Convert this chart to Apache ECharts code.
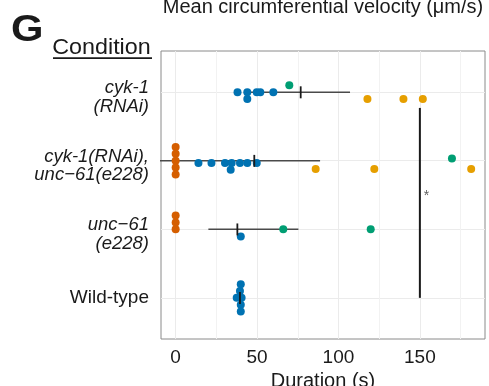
<!DOCTYPE html>
<html><head><meta charset="utf-8">
<script src="https://cdn.jsdelivr.net/npm/echarts@6/dist/echarts.min.js"></script>
<style>html,body{margin:0;padding:0;background:#fff}#c{width:489px;height:386px}</style>
</head><body><div id="c"></div>
<script>
// Conditions (index = position on the y axis, 0 = bottom)
const conditions = ['Wild-type', 'unc\u221261\n(e228)', 'cyk-1(RNAi),\nunc\u221261(e228)', 'cyk-1\n(RNAi)'];
const conditionItalic = [false, true, true, true];
const xTicks = [0, 50, 100, 150];
const xMinorGrid = [25, 75, 125, 175];
const yTicks = [0, 1, 2, 3];

// Points: condition index, duration (s), beeswarm stack (dot rows, + = up)
const blueCond  = [3, 3, 3, 3, 3, 3, 2, 2, 2, 2, 2, 2, 2, 2, 1, 0, 0, 0, 0, 0, 0];
const blueDur   = [38, 44, 44, 49.8, 52, 60, 14, 22, 30.3, 34.4, 39.5, 44, 49.8, 33.8, 40, 40, 39.5, 37.5, 40.5, 40, 40];
const blueStack = [0, 0, -1, 0, 0, 0, -0.33, -0.33, -0.33, -0.33, -0.33, -0.33, -0.33, -1.33, -1.05, 2, 1, 0, 0, -1, -2];

const redCond  = [2, 2, 2, 2, 2, 1, 1, 1];
const redDur   = [0, 0, 0, 0, 0, 0, 0, 0];
const redStack = [2, 1, 0, -1, -2, 0, 1, 2];

const greenCond  = [3, 2, 1, 1];
const greenDur   = [69.8, 169.7, 66.1, 119.8];
const greenStack = [1, 0.33, 0, 0];

const yellowCond  = [3, 3, 3, 2, 2, 2];
const yellowDur   = [117.8, 139.9, 151.8, 86, 122, 181.5];
const yellowStack = [-1, -1, -1, -1.2, -1.2, -1.2];

// Summary per condition (index 0..3)
const meanDur = [39.5, 37.9, 48.3, 76.8];
const lowDur  = [39.5, 20.1, -15, 46];
const highDur = [39.5, 75.4, 88.7, 107.1];

// Significance bar
const sigX = 150, sigFrom = 2.77, sigTo = 0;
const sigStar = [154, 1.52];

const FONT = 'Liberation Sans, Arial, Helvetica, sans-serif';
const STEP = 0.1;
const TXT = '#1a1a1a';

function pts(cond, dur, stack) { return dur.map((d, i) => [d, cond[i] + stack[i] * STEP]); }

const series = [];
series.push({
  type: 'line', data: [], z: 1, silent: true,
  markLine: {
    z: 1, silent: true, symbol: ['none', 'none'], label: { show: false }, animation: false,
    lineStyle: { color: '#ebebeb', type: 'solid', width: 1 },
    emphasis: { disabled: true },
    data: [
      ...xTicks.map(v => ({ xAxis: v })),
      ...yTicks.map(v => ({ yAxis: v })),
      ...xMinorGrid.map(v => ({ xAxis: v, lineStyle: { color: '#f2f2f2', width: 1, type: 'solid' } }))
    ]
  }
});
for (let i = 0; i < meanDur.length; i++) {
  if (highDur[i] > lowDur[i]) {
    series.push({ type: 'line', data: [[lowDur[i], i], [highDur[i], i]], symbol: 'none', silent: true, z: 2,
      lineStyle: { color: '#4a4a4a', width: 1.5 } });
  }
}
const dotSeries = [
  [blueCond, blueDur, blueStack, '#0072B2'],
  [redCond, redDur, redStack, '#D55E00'],
  [greenCond, greenDur, greenStack, '#009E73'],
  [yellowCond, yellowDur, yellowStack, '#E69F00']
];
dotSeries.forEach(([c, d, s, col]) => {
  series.push({ type: 'scatter', data: pts(c, d, s), symbolSize: 8, z: 3, silent: true,
    itemStyle: { color: col, opacity: 1 } });
});
for (let i = 0; i < meanDur.length; i++) {
  series.push({ type: 'line', data: [[meanDur[i], i - 0.09], [meanDur[i], i + 0.085]], symbol: 'none', silent: true, z: 4,
    lineStyle: { color: '#1a1a1a', width: 1.8 } });
}
series.push({ type: 'line', data: [[sigX, sigFrom], [sigX, sigTo]], symbol: 'none', silent: true, z: 4,
  lineStyle: { color: '#1a1a1a', width: 2 } });
series.push({ type: 'scatter', data: [sigStar], symbolSize: 1, silent: true, z: 4,
  itemStyle: { color: 'rgba(0,0,0,0)' },
  label: { show: true, formatter: '*', position: 'inside', fontSize: 14, color: '#333', fontFamily: FONT, offset: [0, 3] } });

const chart = echarts.init(document.getElementById('c'), null, { renderer: 'canvas' });
chart.setOption({
  animation: false,
  backgroundColor: '#fff',
  grid: { left: 161, right: 4, top: 51, bottom: 47, containLabel: false, outerBoundsMode: 'none',
    show: true, borderColor: '#8a8a8a', borderWidth: 1 },
  xAxis: {
    type: 'value', min: -9, max: 190,
    splitLine: { show: false }, axisLine: { show: false },
    axisTick: { show: true, customValues: xTicks, length: 4, lineStyle: { color: '#888' } },
    axisLabel: { customValues: xTicks, fontSize: 19, color: TXT, margin: 9, fontFamily: FONT },
    name: 'Duration (s)', nameLocation: 'middle', nameGap: 20,
    nameTextStyle: { fontSize: 20, color: TXT, fontFamily: FONT }
  },
  yAxis: {
    type: 'value', min: -0.6, max: 3.6,
    splitLine: { show: false }, axisLine: { show: false },
    axisTick: { show: true, customValues: yTicks, length: 4, lineStyle: { color: '#888' } },
    axisLabel: {
      customValues: yTicks, margin: 12,
      formatter: v => {
        const i = Math.round(v);
        const lines = conditions[i].split('\n');
        if (!conditionItalic[i]) return lines.map(l => '{n|' + l + '}').join('\n');
        return '{sp| }\n' + lines.map(l => '{it|' + l + '}').join('\n');
      },
      rich: {
        sp: { fontSize: 8, lineHeight: 10, fontFamily: FONT, color: 'rgba(0,0,0,0)', align: 'right' },
        it: { fontStyle: 'italic', fontSize: 18.5, lineHeight: 18.5, fontFamily: FONT, color: TXT, align: 'right' },
        n: { fontSize: 19, lineHeight: 18, fontFamily: FONT, color: TXT, align: 'right' }
      }
    }
  },
  graphic: [
    { type: 'text', x: 323, y: 7.5, silent: true,
      style: { text: 'Mean circumferential velocity (\u03bcm/s)', font: '20px ' + FONT, fill: TXT, align: 'center', verticalAlign: 'middle' } },
    { type: 'text', x: 11, y: 31.5, scaleX: 1.16, silent: true,
      style: { text: 'G', font: 'bold 36px ' + FONT, fill: TXT, align: 'left', verticalAlign: 'middle' } },
    { type: 'text', x: 52.2, y: 48, scaleX: 1.06, silent: true,
      style: { text: 'Condition', font: '22px ' + FONT, fill: TXT, align: 'left', verticalAlign: 'middle' } },
    { type: 'line', silent: true, shape: { x1: 53, y1: 58.2, x2: 152, y2: 58.2 }, style: { stroke: TXT, lineWidth: 1.7 } }
  ],
  series: series
});
</script></body></html>
